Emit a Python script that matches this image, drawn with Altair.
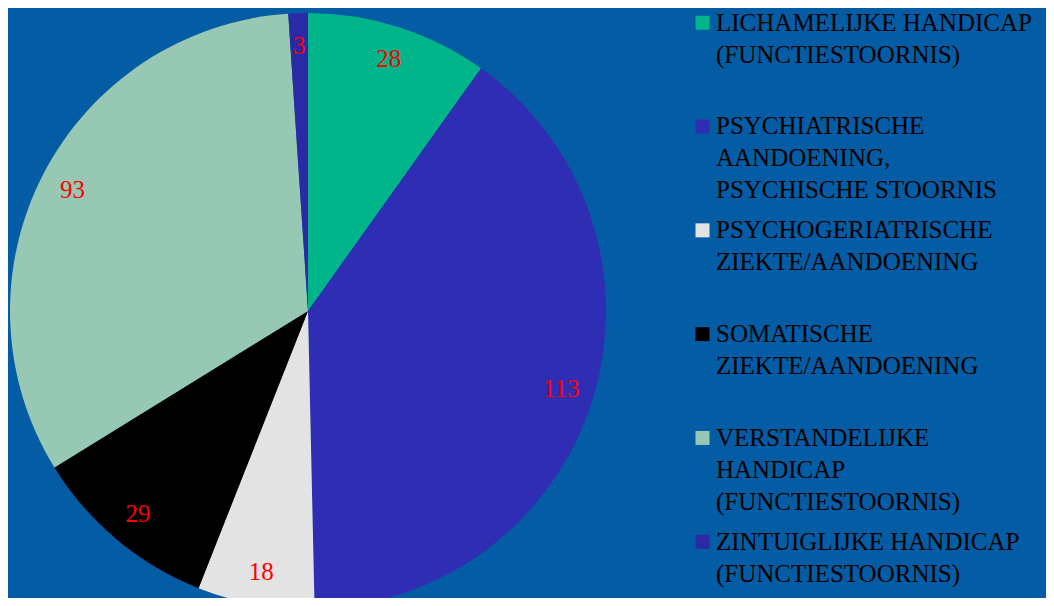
import altair as alt
import pandas as pd

categories = [
    "LICHAMELIJKE HANDICAP|(FUNCTIESTOORNIS)|",
    "PSYCHIATRISCHE|AANDOENING,|PSYCHISCHE STOORNIS",
    "PSYCHOGERIATRISCHE|ZIEKTE/AANDOENING|",
    "SOMATISCHE|ZIEKTE/AANDOENING|",
    "VERSTANDELIJKE|HANDICAP|(FUNCTIESTOORNIS)",
    "ZINTUIGLIJKE HANDICAP|(FUNCTIESTOORNIS)|",
]
values = [28, 113, 18, 29, 93, 3]
colors = ["#00b58a", "#2e2db4", "#e3e3e3", "#000000", "#97c8b3", "#2b2aa6"]
order = [0, 1, 2, 3, 4, 5]

df = pd.DataFrame({"category": categories, "value": values, "order": order})

base = alt.Chart(df).encode(
    theta=alt.Theta("value:Q", stack=True),
    order=alt.Order("order:Q"),
    x=alt.value(300),
    y=alt.value(303),
)

pie = base.mark_arc(outerRadius=298).encode(
    color=alt.Color(
        "category:N",
        scale=alt.Scale(domain=categories, range=colors),
        legend=alt.Legend(
            title=None,
            orient="none",
            legendX=682,
            legendY=-10,
            labelExpr="split(datum.label, '|')",
            labelFont="Liberation Serif",
            labelFontSize=25,
            labelColor="#000000",
            labelBaseline="top",
            labelLimit=0,
            labelOffset=1,
            symbolType="M-1,0.75H1V2.75H-1Z",
            symbolSize=196,
            symbolStrokeWidth=0,
            symbolOpacity=1,
            rowPadding=1.8,
        ),
    )
)

text = base.mark_text(
    radius=265, font="Liberation Serif", fontSize=25, color="#ff0000"
).encode(text="value:Q")

chart = (
    alt.layer(pie, text)
    .properties(width=1038, height=590, padding=0, autosize=alt.AutoSizeParams(type="none"))
    .configure(background="#045ca4", style={"guide-label": {"lineHeight": 32}})
    .configure_view(stroke=None)
)

chart.save("out.html", embed_options={"renderer": "svg", "actions": False})
